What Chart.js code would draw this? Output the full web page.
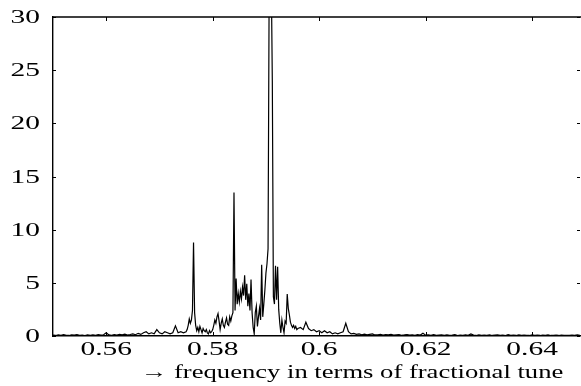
<!DOCTYPE html>
<html>
<head>
<meta charset="utf-8">
<script src="https://cdn.jsdelivr.net/npm/chart.js@4/dist/chart.umd.min.js"></script>
<style>
  html, body { margin: 0; padding: 0; background: #fff; }
  #wrap { width: 581px; height: 386px; }
</style>
</head>
<body>
<div id="wrap"><canvas id="spectrum"></canvas></div>
<script>
const lowStart = 0.550, lowStep = 0.0005;
const lowAmp = [
  0.08, 0.05, 0.1, 0.06, 0.12, 0.07, 0.05, 0.1, 0.08, 0.14,
  0.06, 0.09, 0.05, 0.11, 0.07, 0.1, 0.06, 0.13, 0.08, 0.12,
  0.3, 0.1, 0.07, 0.12, 0.08, 0.15, 0.1, 0.18, 0.09, 0.14,
  0.2, 0.12, 0.25, 0.15, 0.3, 0.4, 0.2, 0.3, 0.2, 0.6,
  0.3, 0.2, 0.4, 0.3, 0.2, 0.3, 0.95, 0.3, 0.4, 0.3
];

const peakStart = 0.575, peakStep = 0.0002;
const peakAmp = [
  0.4, 0.6, 1.0, 1.6, 1.2, 1.5, 2.4, 8.8, 2.2, 1.0,
  0.5, 0.8, 0.4, 0.9, 0.6, 0.3, 0.7, 0.5, 0.4, 0.6,
  0.3, 0.2, 0.5, 0.3, 0.4, 0.6, 1.0, 1.5, 1.2, 1.8,
  2.1, 1.4, 0.6, 1.2, 1.6, 1.0, 0.8, 1.3, 1.7, 1.1,
  1.0, 1.8, 1.4, 1.9, 2.2, 13.5, 2.4, 5.4, 3.0, 4.0,
  3.2, 4.2, 3.5, 4.6, 3.8, 5.7, 3.4, 4.9, 2.8, 4.0,
  2.4, 5.3, 2.2, 0.8, 0.2, 2.2, 2.8, 0.9, 1.8, 2.6,
  1.5, 6.7, 1.8, 3.0, 4.3, 5.9, 6.8, 8.2, 32, 60,
  34, 24, 3.7, 3.0, 6.6, 3.4, 6.5, 2.5, 1.2, 0.3,
  1.5, 0.8, 0.3, 1.4, 1.2, 3.95, 2.6, 2.0, 1.3, 1.0,
  0.8, 1.0, 0.7, 0.9, 0.6, 0.7
];

const highStart = 0.5965, highStep = 0.0005;
const highAmp = [
  0.8, 0.6, 1.3, 0.7, 0.5, 0.6, 0.4, 0.5, 0.3, 0.5,
  0.3, 0.4, 0.2, 0.3, 0.2, 0.3, 0.4, 1.2, 0.4, 0.2,
  0.25, 0.15, 0.2, 0.12, 0.18, 0.1, 0.15, 0.2, 0.1, 0.12,
  0.15, 0.08, 0.12, 0.1, 0.16, 0.08, 0.1, 0.12, 0.07, 0.1,
  0.14, 0.08, 0.1, 0.06, 0.12, 0.09, 0.25, 0.08, 0.1, 0.07,
  0.12, 0.06, 0.09, 0.11, 0.07, 0.1, 0.06, 0.08, 0.12, 0.05,
  0.09, 0.07, 0.1, 0.06, 0.2, 0.08, 0.05, 0.1, 0.07, 0.09,
  0.06, 0.11, 0.05, 0.08, 0.1, 0.06, 0.09, 0.05, 0.12, 0.07,
  0.08, 0.05, 0.1, 0.06, 0.09, 0.07, 0.05, 0.1, 0.06, 0.08,
  0.05, 0.09, 0.06, 0.1, 0.05, 0.07, 0.08, 0.05, 0.09, 0.06,
  0.07, 0.05, 0.08, 0.06, 0.1, 0.07
];

const xTickValues = [0.56, 0.58, 0.6, 0.62, 0.64];
const xTickLabels = ['0.56', '0.58', '0.6', '0.62', '0.64'];
const yTickValues = [0, 5, 10, 15, 20, 25, 30];
const yTickLabels = ['0', '5', '10', '15', '20', '25', '30'];
const xTitle = '\u2192 frequency in terms of fractional tune';

function toPoints(start, step, amps) {
  return amps.map((a, i) => ({ x: +(start + i * step).toFixed(5), y: a }));
}

const points = [].concat(
  toPoints(lowStart, lowStep, lowAmp),
  toPoints(peakStart, peakStep, peakAmp),
  toPoints(highStart, highStep, highAmp)
);

const SERIF = '"Liberation Serif", "DejaVu Serif", serif';

// the original lettering is wide, so squeeze it out horizontally
function wideText(ctx, text, x, y, align, stretch) {
  ctx.save();
  ctx.translate(x, y);
  ctx.scale(stretch, 1);
  ctx.textAlign = align;
  ctx.textBaseline = 'alphabetic';
  ctx.fillText(text, 0, 0);
  ctx.restore();
}

const framePlugin = {
  id: 'frame',
  afterDraw(chart) {
    const { ctx, chartArea: a, scales } = chart;
    const xs = scales.x, ys = scales.y;
    ctx.save();
    ctx.strokeStyle = '#000';
    ctx.lineWidth = 1.4;
    ctx.beginPath();
    ctx.moveTo(a.left, a.top);
    ctx.lineTo(a.right + 1, a.top);
    ctx.stroke();

    ctx.lineWidth = 1;
    ctx.beginPath();
    xTickValues.forEach(v => {
      const px = Math.round(xs.getPixelForValue(v)) + 0.5;
      ctx.moveTo(px, a.top); ctx.lineTo(px, a.top + 4);
      ctx.moveTo(px, a.bottom); ctx.lineTo(px, a.bottom - 4);
    });
    yTickValues.forEach(v => {
      const py = Math.round(ys.getPixelForValue(v)) + 0.5;
      ctx.moveTo(a.left, py); ctx.lineTo(a.left + 3, py);
      ctx.moveTo(a.right, py); ctx.lineTo(a.right - 3, py);
    });
    ctx.stroke();

    ctx.fillStyle = '#000';
    ctx.font = '19px ' + SERIF;
    xTickValues.forEach((v, i) => {
      wideText(ctx, xTickLabels[i], xs.getPixelForValue(v), 355, 'center', 1.55);
    });
    yTickValues.forEach((v, i) => {
      wideText(ctx, yTickLabels[i], 40, ys.getPixelForValue(v) + 6, 'right', 1.55);
    });
    wideText(ctx, xTitle, 352, 378, 'center', 1.4);
    ctx.restore();
  }
};

new Chart(document.getElementById('spectrum'), {
  type: 'line',
  data: {
    datasets: [{
      data: points,
      borderColor: '#000',
      borderWidth: 1.2,
      pointRadius: 0,
      tension: 0,
      fill: false
    }]
  },
  options: {
    responsive: true,
    maintainAspectRatio: false,
    animation: false,
    layout: { padding: { top: 17, right: 1, left: 0, bottom: 0 } },
    plugins: { legend: { display: false }, tooltip: { enabled: false } },
    scales: {
      x: {
        type: 'linear',
        min: 0.55,
        max: 0.649,
        grid: { display: false },
        border: { display: true, color: '#000', width: 1.4 },
        ticks: { display: false },
        afterFit: s => { s.height = 50; }
      },
      y: {
        min: 0,
        max: 30,
        grid: { display: false },
        border: { display: true, color: '#000', width: 1.4 },
        ticks: { display: false },
        afterFit: s => { s.width = 53; }
      }
    }
  },
  plugins: [framePlugin]
});
</script>
</body>
</html>
